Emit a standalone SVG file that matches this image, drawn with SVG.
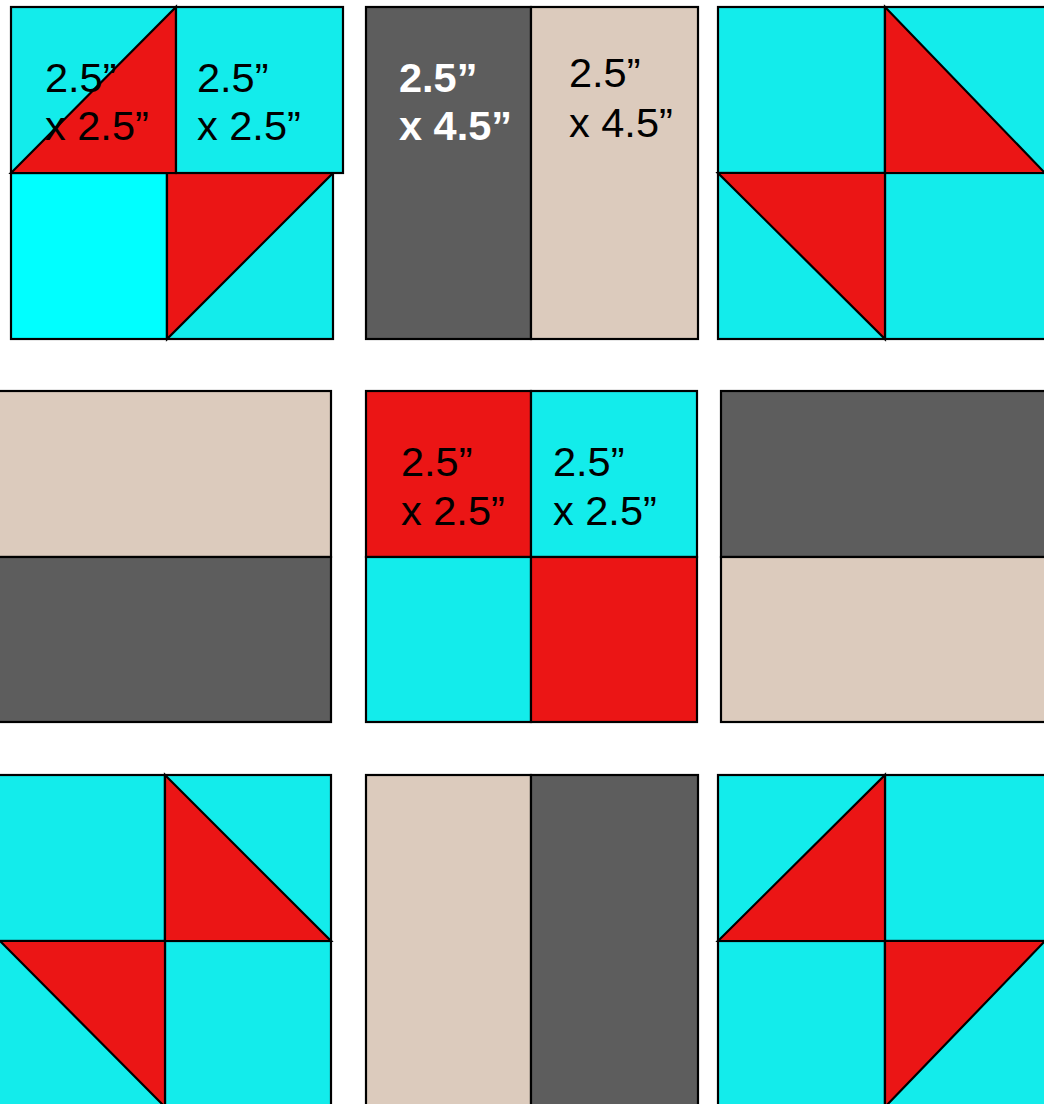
<svg xmlns="http://www.w3.org/2000/svg" width="1044" height="1104" viewBox="0 0 1044 1104">
<style>
.s{stroke:#000;stroke-width:2.2;stroke-linejoin:miter}
.c{fill:#13ECEB}
.cp{fill:#00FFFF}
.r{fill:#EB1515}
.d{fill:#5D5D5D}
.b{fill:#DCCBBD}
.t{font-family:"Liberation Sans",Arial,sans-serif;font-size:41.5px;fill:#000}
.w{font-family:"Liberation Sans",Arial,sans-serif;font-size:41.5px;font-weight:bold;fill:#fff}
</style>
<rect width="1044" height="1104" fill="#fff"/>
<g id="block-top-left">
<rect class="s cp" x="11" y="173" width="156" height="166"/>
<rect class="s c" x="167" y="173" width="166" height="166"/>
<polygon class="s r" points="167,173 333,173 167,339"/>
<rect class="s c" x="11" y="7" width="165" height="166"/>
<polygon class="s r" points="11,173 176,7 176,173"/>
<rect class="s c" x="176" y="7" width="167" height="166"/>
<text class="t" x="45" y="92">2.5”</text>
<text class="t" x="45" y="140">x 2.5”</text>
<text class="t" x="197" y="92">2.5”</text>
<text class="t" x="197" y="140">x 2.5”</text>
</g>
<g id="block-top-middle">
<rect class="s d" x="366" y="7" width="165" height="332"/>
<rect class="s b" x="531" y="7" width="167" height="332"/>
<text class="w" x="399" y="92">2.5”</text>
<text class="w" x="399" y="140">x 4.5”</text>
<text class="t" x="569" y="87">2.5”</text>
<text class="t" x="569" y="137">x 4.5”</text>
</g>
<g id="block-top-right">
<rect class="s c" x="718" y="7" width="167" height="166"/>
<rect class="s c" x="885" y="7" width="162" height="166"/>
<rect class="s c" x="718" y="173" width="167" height="166"/>
<rect class="s c" x="885" y="173" width="162" height="166"/>
<polygon class="s r" points="885,7 1045,173 885,173"/>
<polygon class="s r" points="718,173 885,173 885,339"/>
</g>
<g id="block-mid-left">
<rect class="s b" x="-2" y="391" width="333" height="166"/>
<rect class="s d" x="-2" y="557" width="333" height="165"/>
</g>
<g id="block-mid-middle">
<rect class="s r" x="366" y="391" width="165" height="166"/>
<rect class="s c" x="531" y="391" width="166" height="166"/>
<rect class="s c" x="366" y="557" width="165" height="165"/>
<rect class="s r" x="531" y="557" width="166" height="165"/>
<text class="t" x="401" y="476">2.5”</text>
<text class="t" x="401" y="525">x 2.5”</text>
<text class="t" x="553" y="476">2.5”</text>
<text class="t" x="553" y="525">x 2.5”</text>
</g>
<g id="block-mid-right">
<rect class="s d" x="721" y="391" width="330" height="166"/>
<rect class="s b" x="721" y="557" width="330" height="165"/>
</g>
<g id="block-bottom-left">
<rect class="s c" x="-2" y="775" width="167" height="166"/>
<rect class="s c" x="165" y="775" width="166" height="166"/>
<rect class="s c" x="-2" y="941" width="167" height="170"/>
<rect class="s c" x="165" y="941" width="166" height="170"/>
<polygon class="s r" points="165,775 331,941 165,941"/>
<polygon class="s r" points="0,941 165,941 165,1107"/>
</g>
<g id="block-bottom-middle">
<rect class="s b" x="366" y="775" width="165" height="336"/>
<rect class="s d" x="531" y="775" width="167" height="336"/>
</g>
<g id="block-bottom-right">
<rect class="s c" x="718" y="775" width="167" height="166"/>
<rect class="s c" x="885" y="775" width="162" height="166"/>
<rect class="s c" x="718" y="941" width="167" height="170"/>
<rect class="s c" x="885" y="941" width="162" height="170"/>
<polygon class="s r" points="718,941 885,775 885,941"/>
<polygon class="s r" points="885,941 1045,941 885,1107"/>
</g>
<g id="connectors"/>
</svg>
